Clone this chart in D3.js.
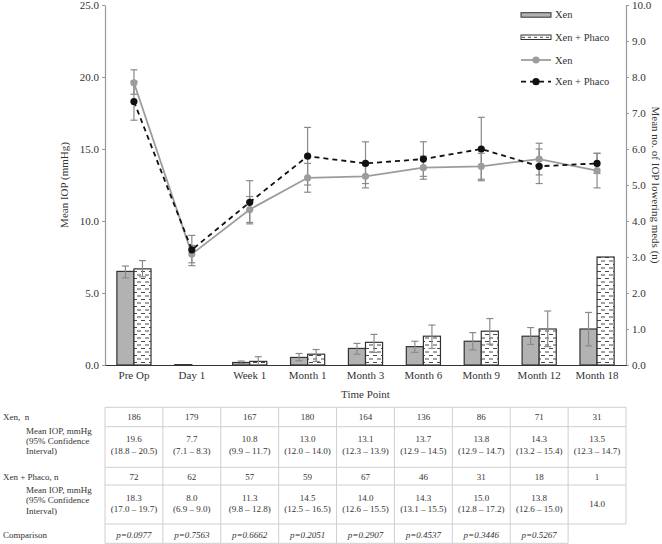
<!DOCTYPE html>
<html><head><meta charset="utf-8">
<script src="https://cdn.jsdelivr.net/npm/d3@7/dist/d3.min.js"></script>
<style>body{margin:0;background:#fff}svg{display:block}svg text{font-family:"Liberation Serif","Tinos","Times New Roman","DejaVu Serif",serif !important;fill:#333}</style>
</head><body><svg id="c" width="662" height="544" font-family="Liberation Serif, serif"></svg>
<script>
const categories = ["Pre Op","Day 1","Week 1","Month 1","Month 3","Month 6","Month 9","Month 12","Month 18"];
// line series (Mean IOP, left axis)
const iopXen = [19.6,7.7,10.8,13.0,13.1,13.7,13.8,14.3,13.5];
const iopXenLo = [18.8,7.1,9.9,12.0,12.3,12.9,12.9,13.2,12.3];
const iopXenHi = [20.5,8.3,11.7,14.0,13.9,14.5,14.7,15.4,14.7];
const iopPhaco = [18.3,8.0,11.3,14.5,14.0,14.3,15.0,13.8,14.0];
const iopPhacoLo = [17.0,6.9,9.8,12.5,12.6,13.1,12.8,12.6,13.3];
const iopPhacoHi = [19.7,9.0,12.8,16.5,15.5,15.5,17.2,15.0,14.7];
// bar series (meds, right axis)
const medsXen = [2.60,0.01,0.07,0.21,0.46,0.51,0.66,0.80,1.00];
const medsXenLo = [2.42,null,0.04,0.12,0.30,0.35,0.42,0.57,0.53];
const medsXenHi = [2.75,null,0.11,0.32,0.60,0.66,0.90,1.04,1.46];
const medsPhaco = [2.67,0,0.10,0.30,0.63,0.80,0.94,1.00,3.00];
const medsPhacoLo = [2.45,null,0.0,0.10,0.35,0.46,0.58,0.51,null];
const medsPhacoHi = [2.90,null,0.23,0.43,0.85,1.11,1.29,1.50,null];
// table
const nXen = ["186","179","167","180","164","136","86","71","31"];
const ciXen = ["(18.8 – 20.5)","(7.1 – 8.3)","(9.9 – 11.7)","(12.0 – 14.0)","(12.3 – 13.9)","(12.9 – 14.5)","(12.9 – 14.7)","(13.2 – 15.4)","(12.3 – 14.7)"];
const nPhaco = ["72","62","57","59","67","46","31","18","1"];
const ciPhaco = ["(17.0 – 19.7)","(6.9 – 9.0)","(9.8 – 12.8)","(12.5 – 16.5)","(12.6 – 15.5)","(13.1 – 15.5)","(12.8 – 17.2)","(12.6 – 15.0)",""];
const pValues = ["p=0.0977","p=0.7563","p=0.6662","p=0.2051","p=0.2907","p=0.4537","p=0.3446","p=0.5267",""];
const leftTicks = [0,5,10,15,20,25];
const rightTicks = [0,1,2,3,4,5,6,7,8,9,10];

const svg = d3.select("#c");
const L=105, R=626, T=5, B=365;
const x = d3.scaleBand().domain(categories).range([L,R]).padding(0);
const yL = d3.scaleLinear().domain([0,25]).range([B,T]);
const yR = d3.scaleLinear().domain([0,10]).range([B,T]);
const bw = x.bandwidth()*0.295;
const cx = c => x(c)+x.bandwidth()/2;

const defs = svg.append("defs");
const pat = defs.append("pattern").attr("id","dash").attr("patternUnits","userSpaceOnUse")
  .attr("width",8).attr("height",7);
pat.append("rect").attr("width",8).attr("height",7).attr("fill","#fff");
pat.append("line").attr("x1",1).attr("x2",5).attr("y1",2).attr("y2",2).attr("stroke","#333").attr("stroke-width",0.9);
pat.append("line").attr("x1",5).attr("x2",9).attr("y1",5.5).attr("y2",5.5).attr("stroke","#333").attr("stroke-width",0.9);
pat.append("line").attr("x1",-3).attr("x2",1).attr("y1",5.5).attr("y2",5.5).attr("stroke","#333").attr("stroke-width",0.9);

const errColor = "#8a8a8a";
function errBar(g, xc, lo, hi, ys, cap){
  if(lo==null||hi==null) return;
  g.append("line").attr("x1",xc).attr("x2",xc).attr("y1",ys(lo)).attr("y2",ys(hi)).attr("stroke",errColor).attr("stroke-width",1.2);
  [lo,hi].forEach(v=>g.append("line").attr("x1",xc-cap).attr("x2",xc+cap).attr("y1",ys(v)).attr("y2",ys(v)).attr("stroke",errColor).attr("stroke-width",1.2));
}

// bars
const gb = svg.append("g");
categories.forEach((c,i)=>{
  const x0 = cx(c)-bw;
  if(medsXen[i]>0) gb.append("rect").attr("x",x0).attr("y",yR(medsXen[i])).attr("width",bw).attr("height",B-yR(medsXen[i]))
    .attr("fill","#b2b2b2").attr("stroke","#333").attr("stroke-width",1.2);
  if(medsPhaco[i]>0) gb.append("rect").attr("x",x0+bw).attr("y",yR(medsPhaco[i])).attr("width",bw).attr("height",B-yR(medsPhaco[i]))
    .attr("fill","url(#dash)").attr("stroke","#333").attr("stroke-width",1.2);
  errBar(gb, x0+bw/2, medsXenLo[i], medsXenHi[i], yR, 3.5);
  errBar(gb, x0+bw*1.5, medsPhacoLo[i], medsPhacoHi[i], yR, 3.5);
});

// lines
const gl = svg.append("g");
categories.forEach((c,i)=>{
  errBar(gl, cx(c), iopXenLo[i], iopXenHi[i], yL, 3.5);
  errBar(gl, cx(c), iopPhacoLo[i], iopPhacoHi[i], yL, 3.5);
});
const line = d3.line().x((d,i)=>cx(categories[i])).y(d=>yL(d));
gl.append("path").datum(iopXen).attr("d",line).attr("fill","none").attr("stroke","#9c9c9c").attr("stroke-width",1.8);
gl.append("path").datum(iopPhaco).attr("d",line).attr("fill","none").attr("stroke","#111").attr("stroke-width",1.8).attr("stroke-dasharray","5,4");
gl.selectAll(".px").data(iopXen).enter().append("circle").attr("cx",(d,i)=>cx(categories[i])).attr("cy",d=>yL(d)).attr("r",3.6).attr("fill","#9c9c9c");
gl.selectAll(".pp").data(iopPhaco).enter().append("circle").attr("cx",(d,i)=>cx(categories[i])).attr("cy",d=>yL(d)).attr("r",3.6).attr("fill","#111");

// axes
const ax = svg.append("g");
const aL = ax.append("g").attr("transform",`translate(${L},0)`).call(d3.axisLeft(yL).tickValues(leftTicks).tickFormat(d3.format(".1f")).tickSize(3).tickSizeOuter(0));
const aR = ax.append("g").attr("transform",`translate(${R},0)`).call(d3.axisRight(yR).tickValues(rightTicks).tickFormat(d3.format(".1f")).tickSize(3).tickSizeOuter(0));
[aL,aR].forEach(a=>{a.attr("font-family",null);a.select(".domain").attr("stroke","#999").attr("stroke-width",1.2);a.selectAll(".tick line").attr("stroke","#999");
  a.selectAll(".tick text").attr("font-size",11).attr("fill","#444");});
aL.selectAll(".tick text").attr("x",-6);
aR.selectAll(".tick text").attr("x",6);
const aB = ax.append("g").attr("transform",`translate(0,${B})`).call(d3.axisBottom(x).tickSize(0).tickSizeOuter(0));
aB.attr("font-family",null);
aB.select(".domain").attr("stroke","#333").attr("stroke-width",1.2);
aB.selectAll(".tick text").attr("font-size",11).attr("fill","#333").attr("dy","0.9em").attr("y",4);

svg.append("text").attr("x",(L+R)/2).attr("y",398).attr("text-anchor","middle").attr("font-size",11).text("Time Point");
svg.append("text").attr("transform",`translate(68,${(T+B)/2}) rotate(-90)`).attr("text-anchor","middle").attr("font-size",11).text("Mean IOP (mmHg)");
svg.append("text").attr("transform",`translate(652,${(T+B)/2}) rotate(90)`).attr("text-anchor","middle").attr("font-size",11).text("Mean no. of IOP lowering meds (n)");

// legend
const lg = svg.append("g");
const lx=521, lw=30, rows=[14.7,37,60,81.7];
lg.append("rect").attr("x",lx).attr("y",rows[0]-2).attr("width",lw).attr("height",4.5).attr("fill","#b2b2b2").attr("stroke","#333").attr("stroke-width",1);
lg.append("rect").attr("x",lx).attr("y",rows[1]-2).attr("width",lw).attr("height",4.5).attr("fill","#fff").attr("stroke","#333").attr("stroke-width",1);
lg.append("line").attr("x1",lx+1).attr("x2",lx+lw-1).attr("y1",rows[1]+0.3).attr("y2",rows[1]+0.3).attr("stroke","#333").attr("stroke-width",0.9).attr("stroke-dasharray","3,3");
lg.append("line").attr("x1",lx).attr("x2",lx+lw).attr("y1",rows[2]).attr("y2",rows[2]).attr("stroke","#9c9c9c").attr("stroke-width",1.8);
lg.append("circle").attr("cx",lx+lw/2).attr("cy",rows[2]).attr("r",3.6).attr("fill","#9c9c9c");
lg.append("line").attr("x1",lx).attr("x2",lx+lw).attr("y1",rows[3]).attr("y2",rows[3]).attr("stroke","#111").attr("stroke-width",1.8).attr("stroke-dasharray","5,4");
lg.append("circle").attr("cx",lx+lw/2).attr("cy",rows[3]).attr("r",3.6).attr("fill","#111");
["Xen","Xen + Phaco","Xen","Xen + Phaco"].forEach((t,i)=>lg.append("text").attr("x",lx+34).attr("y",rows[i]).attr("dy","0.35em").attr("font-size",10.5).text(t));

// table
const tg = svg.append("g");
const hl = [407.3,426.7,467.3,485,524,543.3];
const gridC = "#cfcfcf";
const colEdges = categories.map(c=>x(c)).concat([R]);
hl.forEach((y,i)=>{
  const xEnd = (i===5)? x("Month 18") : R;
  tg.append("line").attr("x1",L).attr("x2",xEnd).attr("y1",y).attr("y2",y).attr("stroke",gridC).attr("stroke-width",1);
});
colEdges.forEach((xe,i)=>{
  const yEnd = (i===9)? hl[4] : hl[5];
  tg.append("line").attr("x1",xe).attr("x2",xe).attr("y1",hl[0]).attr("y2",yEnd).attr("stroke",gridC).attr("stroke-width",1);
});
const fs=9;
function cell(t, xc, y, italic){ return tg.append("text").attr("x",xc).attr("y",y).attr("dy","0.35em").attr("text-anchor","middle").attr("font-size",fs).attr("font-style",italic?"italic":null).text(t); }
categories.forEach((c,i)=>{
  const xc = cx(c);
  cell(nXen[i], xc, 416.7);
  cell(iopXen[i].toFixed(1), xc, 439); cell(ciXen[i], xc, 450.7);
  cell(nPhaco[i], xc, 476.4);
  if(ciPhaco[i]){ cell(iopPhaco[i].toFixed(1), xc, 498.3); cell(ciPhaco[i], xc, 508.5); }
  else cell(iopPhaco[i].toFixed(1), xc, 503.5);
  if(pValues[i]) cell(pValues[i], xc, 534.5, true);
});
function lab(t,xl,y){ return tg.append("text").attr("x",xl).attr("y",y).attr("dy","0.35em").attr("font-size",fs).attr("xml:space","preserve").style("white-space","pre").text(t); }
lab("Xen,  n",3,416.7);
lab("Mean IOP, mmHg",26,431); lab("(95% Confidence",26,441); lab("Interval)",26,450.7);
lab("Xen + Phaco, n",3,476.4);
lab("Mean IOP, mmHg",26,490); lab("(95% Confidence",26,500.3); lab("Interval)",26,510.5);
lab("Comparison",3,534.5);
</script></body></html>
